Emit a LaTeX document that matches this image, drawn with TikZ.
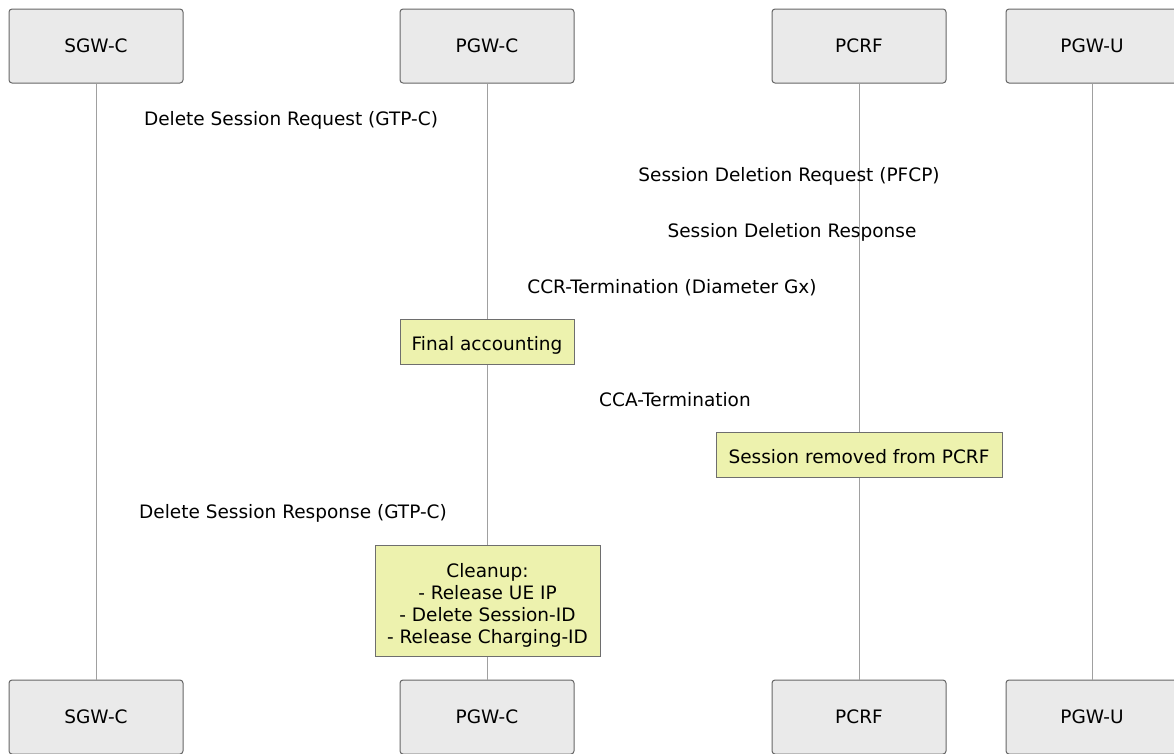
\documentclass[tikz,border=0pt]{standalone}
\usepackage{fontspec}
\setmainfont{DejaVu Sans}
\definecolor{actorfill}{RGB}{234,234,234}
\definecolor{actorline}{RGB}{102,102,102}
\definecolor{notefill}{RGB}{237,242,174}
\definecolor{notedraw}{RGB}{110,110,110}
\definecolor{lifegrey}{RGB}{160,160,160}
\begin{document}
\begin{tikzpicture}
    [
    x=1pt,y=-1pt,
    font=\fontsize{18.5}{22}\selectfont,
    actor/.style={draw=actorline,line width=1pt,fill=actorfill,rounded corners=3pt,inner sep=0pt,minimum width=174pt,minimum height=74pt},
    note/.style={draw=notedraw,line width=1pt,fill=notefill,inner sep=0pt,align=center,text depth=4pt},
    msg/.style={inner sep=0pt},
    lifeline/.style={draw=lifegrey,line width=0.8pt}
    ]
    \useasboundingbox (0,0) rectangle (1174,753);

    % participants, top and bottom
    \node (sgwtop) at (96,46) [actor] {SGW-C};
    \node (pgwctop) at (487,46) [actor] {PGW-C};
    \node (pcrftop) at (859,46) [actor] {PCRF};
    \node (pgwutop) at (1092,46) [actor,minimum width=172pt] {PGW-U};
    \node (sgwbot) at (96,717) [actor] {SGW-C};
    \node (pgwcbot) at (487,717) [actor] {PGW-C};
    \node (pcrfbot) at (859,717) [actor] {PCRF};
    \node (pgwubot) at (1092,717) [actor,minimum width=172pt] {PGW-U};

    \draw [lifeline] (sgwtop) to (sgwbot);
    \draw [lifeline] (pgwctop) to (pgwcbot);
    \draw [lifeline] (pcrftop) to (pcrfbot);
    \draw [lifeline] (pgwutop) to (pgwubot);

    % messages
    \node (m1) at (291,120) [msg] {Delete Session Request (GTP-C)};
    \node (m2) at (789,176) [msg] {Session Deletion Request (PFCP)};
    \node (m3) at (792,232) [msg] {Session Deletion Response};
    \node (m4) at (672,288) [msg] {CCR-Termination (Diameter Gx)};
    \node (m5) at (675,400) [msg] {CCA-Termination};
    \node (m6) at (293,513) [msg] {Delete Session Response (GTP-C)};

    % notes
    \node (final) at (487,341.5) [note,text height=21.5pt,minimum width=174pt,minimum height=45pt] {Final accounting};
    \node (removed) at (859,454.5) [note,text height=21.5pt,minimum width=286pt,minimum height=45pt] {Session removed from PCRF};
    \node (cleanup) at (487.5,600.5) [note,text height=89.5pt,minimum width=225pt,minimum height=111pt]
        {Cleanup:\\- Release UE IP\\- Delete Session-ID\\- Release Charging-ID};
  \end{tikzpicture}
\end{document}
